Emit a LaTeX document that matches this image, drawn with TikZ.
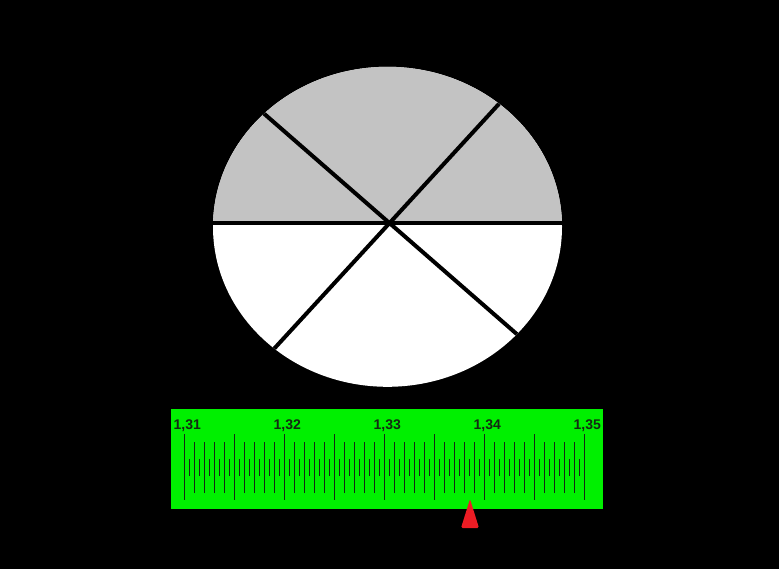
\documentclass[tikz,border=0pt]{standalone}
\usepackage{fontspec}
\setsansfont{Liberation Sans}
\usepackage{tikz}
\usetikzlibrary{positioning, calc}
\definecolor{pzGray}{RGB}{195,195,195}
\definecolor{pzGreen}{RGB}{0,240,0}
\definecolor{pzRed}{RGB}{237,28,36}
\definecolor{pzInk}{RGB}{20,40,20}

\begin{document}
\begin{tikzpicture}[x=1pt,y=-1pt,font=\sffamily,
  disc/.style={x radius=174.5,y radius=160},
  spoke/.style={line width=4pt,black},
  ruler/.style={fill=pzGreen,draw=none,minimum width=432pt,minimum height=100pt,
                inner sep=0pt,anchor=north west},
  major/.style={pzInk,line width=1.6pt},
  minor/.style={pzInk,line width=1.5pt},
  lbl/.style={font=\sffamily\fontsize{14}{14}\selectfont\bfseries,text=pzInk,inner sep=0pt,anchor=center},
  pointer/.style={fill=pzRed,rounded corners=1.5pt}]

% ===== background =====
\fill[black] (0,0) rectangle (779,569);
\useasboundingbox (0,0) rectangle (779,569);

% ===== disc =====
\coordinate (mid) at (387.5,226.8);
\coordinate (hub) at (390,223);
\fill[white] (mid) ellipse[disc];
\begin{scope}
  \clip (0,0) rectangle (779,223);
  \fill[pzGray] (mid) ellipse[disc];
\end{scope}
\begin{scope}
  \clip (mid) ellipse[disc];
  \draw[spoke] ($(hub)+(-200,0)$) -- ($(hub)+(200,0)$);
  \draw[spoke] ($(hub)+(-254,-221)$) -- ($(hub)+(254,222)$);
  \draw[spoke] ($(hub)+(220,-240)$) -- ($(hub)+(-230,250)$);
\end{scope}

% ===== ruler =====
\node[ruler] (ruler) at (171,409) {};
\coordinate (zero) at (184.3,409);
\foreach \i in {0,...,40} {
  \pgfmathtruncatemacro\r{mod(\i,5)}
  \ifnum\r=0
    \draw[major] ($(zero)+(10*\i,25)$) -- ++(0,66);
  \else
    \draw[minor] ($(zero)+(10*\i,33)$) -- ++(0,51);
  \fi
}
\foreach \i in {0,...,39}
  \draw[minor] ($(zero)+(10*\i+5,50)$) -- ++(0,17);
\foreach \k in {1,...,5}
  \node[lbl] (l\k) at ($(zero)+(100*\k-97,16.5)$) {1,3\k};

% ===== pointer =====
\coordinate (tip) at (470,499);
\fill[pointer] (tip) -- ($(tip)+(9,29)$) -- ($(tip)+(-9,29)$) -- cycle;
\end{tikzpicture}
\end{document}
